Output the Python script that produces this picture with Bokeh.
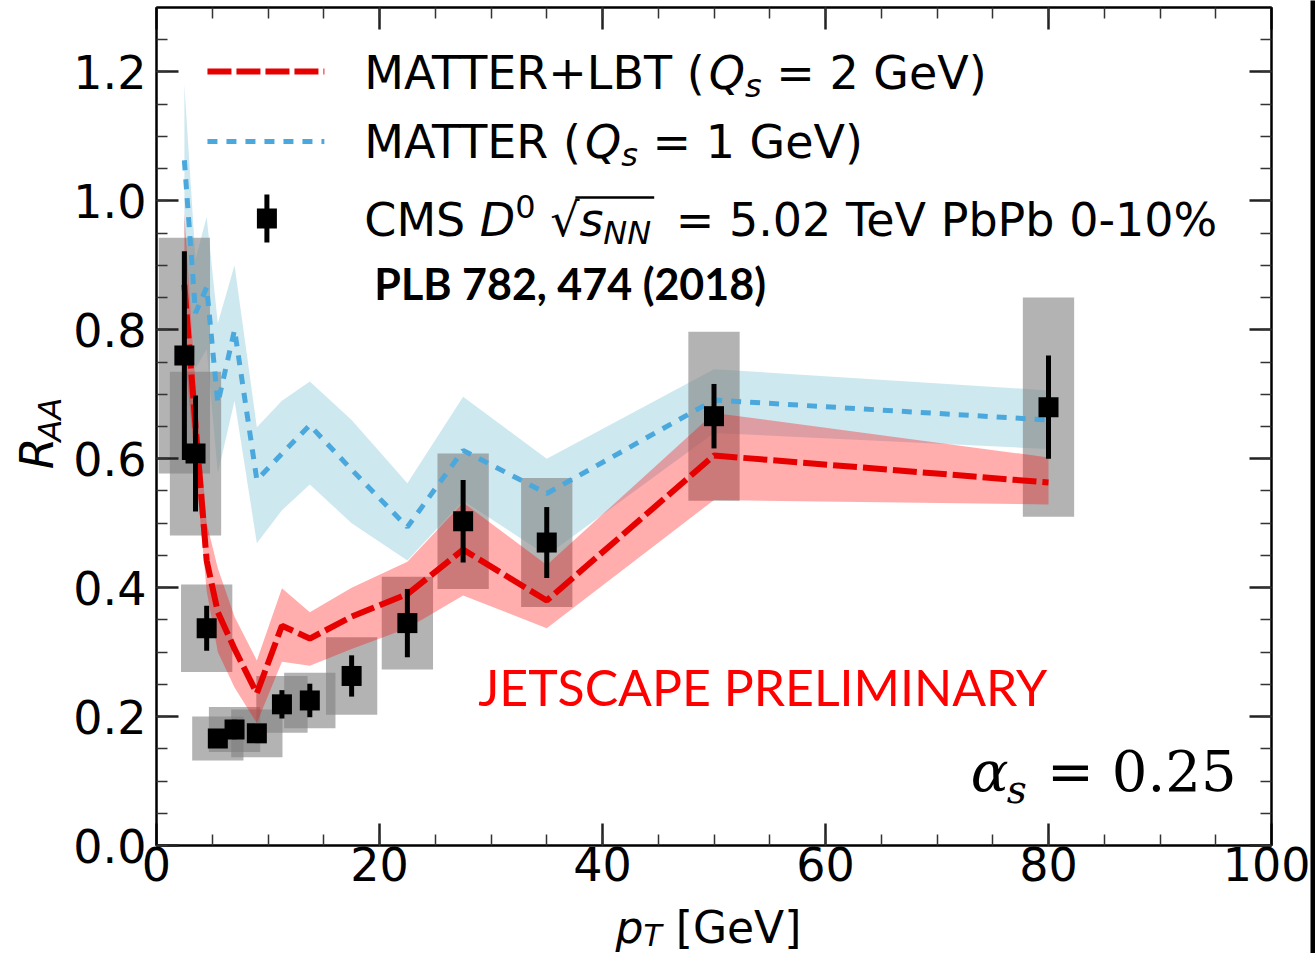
import numpy as np
from bokeh.plotting import figure
from bokeh.layouts import row, column
from bokeh.models import (Range1d, LinearAxis, SingleIntervalTicker, PrintfTickFormatter,
                          Label, ColumnDataSource)
from bokeh.embed import file_html
from bokeh.resources import INLINE

# ---------------- data ----------------
pt = [2.5, 3.5, 4.5, 5.5, 7.0, 9.0, 11.25, 13.75, 17.5, 22.5, 27.5, 35.0, 50.0, 80.0]
cms_raa = [0.760, 0.608, 0.337, 0.166, 0.180, 0.174, 0.219, 0.225, 0.263, 0.345, 0.503, 0.470, 0.666, 0.680]
cms_stat = [0.162, 0.090, 0.035, 0.012, 0.015, 0.010, 0.022, 0.026, 0.032, 0.053, 0.064, 0.055, 0.050, 0.080]
cms_syst = [0.183, 0.127, 0.068, 0.034, 0.035, 0.037, 0.044, 0.043, 0.060, 0.072, 0.105, 0.100, 0.131, 0.170]

lbt = [0.870, 0.650, 0.442, 0.362, 0.305, 0.236, 0.341, 0.321, 0.355, 0.390, 0.459, 0.380, 0.605, 0.563]
lbt_lo = [0.770, 0.585, 0.395, 0.300, 0.245, 0.190, 0.285, 0.279, 0.305, 0.337, 0.388, 0.337, 0.536, 0.529]
lbt_hi = [0.980, 0.715, 0.500, 0.430, 0.355, 0.287, 0.399, 0.362, 0.400, 0.440, 0.532, 0.435, 0.671, 0.602]

matter = [1.063, 0.826, 0.866, 0.686, 0.800, 0.567, 0.608, 0.652, 0.583, 0.494, 0.613, 0.546, 0.691, 0.660]
matter_lo = [0.950, 0.740, 0.770, 0.577, 0.690, 0.469, 0.520, 0.560, 0.500, 0.442, 0.535, 0.450, 0.640, 0.615]
matter_hi = [1.180, 0.910, 0.975, 0.810, 0.900, 0.649, 0.690, 0.720, 0.660, 0.562, 0.696, 0.600, 0.739, 0.706]

x_ticks_interval = 20
y_ticks_interval = 0.2

label_lbt = ["MATTER+LBT (", "Q", "s", " = 2 GeV)"]
label_matter = ["MATTER (", "Q", "s", " = 1 GeV)"]
label_cms = ["CMS ", "D", "0", "\u221a", "s", "NN", " = 5.02 TeV PbPb 0-10%"]
ref_text = "PLB 782, 474 (2018)"
prelim_text = "JETSCAPE PRELIMINARY"
alpha_text = ["\u03b1", "s", "= 0.25"]
xlabel_parts = ["p", "T", " [GeV]"]
ylabel_parts = ["R", "AA"]

# ---------------- page geometry (page pixels) ----------------
PAGE_W, PAGE_H = 1315, 953
LEFT_W = 70          # strip holding the y title
STRIP_W = 5          # black edge at the right
TOP_H = 900          # height of main row
BOT_H = PAGE_H - TOP_H
FRAME_L, FRAME_R, FRAME_T, FRAME_B = 155, 1271, 7, 845
MAIN_W = PAGE_W - LEFT_W - STRIP_W

p = figure(width=MAIN_W, height=TOP_H, output_backend="svg", toolbar_location=None,
           x_range=Range1d(0, 100), y_range=Range1d(0, 1.3),
           min_border_left=FRAME_L - LEFT_W, min_border_right=LEFT_W + MAIN_W - FRAME_R,
           min_border_top=FRAME_T, min_border_bottom=TOP_H - FRAME_B,
           x_axis_location=None, y_axis_location=None)
p.grid.visible = False
p.outline_line_color = "black"
p.outline_line_width = 2
p.background_fill_color = "white"
p.border_fill_color = "white"

SX = (FRAME_R - FRAME_L) / 100.0
SY = (FRAME_B - FRAME_T) / 1.3
def dx(px):
    return (px - FRAME_L) / SX
def dy(py):
    return (FRAME_B - py) / SY


def style_axis(ax, labels=True):
    ax.axis_line_color = "black"
    ax.axis_line_width = 2
    ax.major_tick_in = 22
    ax.major_tick_out = 0
    ax.minor_tick_in = 11
    ax.minor_tick_out = 0
    ax.major_tick_line_width = 2.5
    ax.minor_tick_line_width = 1.5
    ax.major_tick_line_color = "#222222"
    ax.minor_tick_line_color = "#333333"
    if labels:
        ax.major_label_text_font = "DejaVu Sans"
        ax.major_label_text_font_size = "46px"
        ax.major_label_text_color = "black"
    else:
        # mirrored axis: ticks only, labels not painted
        ax.major_label_text_font_size = "1px"
        ax.major_label_text_color = None
        ax.major_label_standoff = 0


xb = LinearAxis(ticker=SingleIntervalTicker(interval=x_ticks_interval, num_minor_ticks=4),
                formatter=PrintfTickFormatter(format="%d"))
style_axis(xb)
xb.major_label_standoff = 1
p.add_layout(xb, "below")
yl = LinearAxis(ticker=SingleIntervalTicker(interval=y_ticks_interval, num_minor_ticks=4),
                formatter=PrintfTickFormatter(format="%.1f"))
style_axis(yl)
yl.major_label_standoff = 10
p.add_layout(yl, "left")
xa = LinearAxis(ticker=SingleIntervalTicker(interval=x_ticks_interval, num_minor_ticks=4))
style_axis(xa, labels=False)
p.add_layout(xa, "above")
yr = LinearAxis(ticker=SingleIntervalTicker(interval=y_ticks_interval, num_minor_ticks=4))
style_axis(yr, labels=False)
p.add_layout(yr, "right")

# ---------------- glyphs ----------------
src = ColumnDataSource(dict(
    pt=pt, raa=cms_raa,
    st_lo=[v - e for v, e in zip(cms_raa, cms_stat)],
    st_hi=[v + e for v, e in zip(cms_raa, cms_stat)],
    sys_h=[2 * e for e in cms_syst],
    lbt=lbt, lbt_lo=lbt_lo, lbt_hi=lbt_hi,
    mat=matter, mat_lo=matter_lo, mat_hi=matter_hi,
))

RED, BLUE = "#e60000", "#4ba8dc"
p.varea(x="pt", y1="mat_lo", y2="mat_hi", source=src, fill_color="#add8e6", fill_alpha=0.6)
p.rect(x="pt", y="raa", width=4.6, height="sys_h", source=src,
       fill_color="gray", fill_alpha=0.6, line_color=None)
p.varea(x="pt", y1="lbt_lo", y2="lbt_hi", source=src, fill_color="red", fill_alpha=0.32)
p.line(x="pt", y="mat", source=src, line_color=BLUE, line_width=5, line_dash="10 9")
p.line(x="pt", y="lbt", source=src, line_color=RED, line_width=6, line_dash="24 6")
p.segment(x0="pt", y0="st_lo", x1="pt", y1="st_hi", source=src, line_color="black", line_width=5)
p.scatter(x="pt", y="raa", source=src, marker="square", size=20, fill_color="black", line_color=None)

# ---------------- legend samples ----------------
p.segment(x0=[dx(206)], y0=[dy(71)], x1=[dx(323)], y1=[dy(71)],
          line_color=RED, line_width=6, line_dash="24 5")
p.segment(x0=[dx(206)], y0=[dy(141)], x1=[dx(323)], y1=[dy(141)],
          line_color=BLUE, line_width=5, line_dash="10 9")
p.segment(x0=[dx(265.5)], y0=[dy(194)], x1=[dx(265.5)], y1=[dy(242)], line_color="black", line_width=5)
p.scatter(x=[dx(265.5)], y=[dy(218)], marker="square", size=20, fill_color="black", line_color=None)

# ---------------- text helpers ----------------
ADV = {'M': 1767, 'A': 1401, 'T': 1251, 'E': 1294, 'R': 1423, '+': 1716, 'L': 1141, 'B': 1405,
       ' ': 651, '(': 799, ')': 799, 'Q': 1612, 's': 1067, '=': 1716, 'G': 1577, 'e': 1260,
       'V': 1401, 'C': 1430, 'S': 1300, 'D': 1577, 'N': 1532, '.': 651, 'P': 1235, 'b': 1300,
       '-': 739, '%': 1946, 'p': 1300, '[': 799, ']': 799, '\u221a': 1303}
for d in "0123456789":
    ADV[d] = 1303

def tw(t, size):
    return sum(ADV.get(c, 1300) for c in t) / 2048.0 * size

MID = {"DejaVu Sans": 0.346, "DejaVu Serif": 0.346, "Lato": 0.387}


def mk(fig, x, y, text, size, font, style, color, align, angle=0.0):
    fig.add_layout(Label(x=x, y=y, text=text, text_font=font, text_font_size=f"{size}px",
                         text_font_style=style, text_color=color, text_align=align,
                         text_baseline="middle", angle=angle))


def lab(px, base, text, size, font="DejaVu Sans", style="normal", color="black", align="left"):
    mk(p, dx(px), dy(base - MID[font] * size), text, size, font, style, color, align)


def rich_row(parts, px, base):
    # parts: (text, size, style, baseline shift, extra gap before)
    x = px
    pos = []
    for text, size, style, shift, gap in parts:
        lead = len(text) - len(text.lstrip(" "))
        body = text.lstrip(" ")
        x0 = x + gap + tw(" " * lead, size)
        if body:
            lab(x0, base + shift, body, size, style=style)
        pos.append((x0, x0 + tw(body, size)))
        x = x0 + tw(body, size)
    return pos


FS, SUB = 46, 32
rich_row([(label_lbt[0], FS, "normal", 0, 0), (label_lbt[1], FS, "italic", 0, 0),
          (label_lbt[2], SUB, "italic", 9, 0), (label_lbt[3], FS, "normal", 0, 0)], 363, 88)
rich_row([(label_matter[0], FS, "normal", 0, 0), (label_matter[1], FS, "italic", 0, 0),
          (label_matter[2], SUB, "italic", 9, 0), (label_matter[3], FS, "normal", 0, 0)], 363, 157)
pos = rich_row([(label_cms[0], FS, "normal", 0, 0), (label_cms[1], FS, "italic", 0, 0),
                (label_cms[2], SUB, "normal", -18, 0), (" ", FS, "normal", 0, 0),
                (label_cms[3], FS, "normal", 0, 0), (label_cms[4], FS, "italic", 0, 0),
                (label_cms[5], SUB, "italic", 9, 0), (label_cms[6], FS, "normal", 0, 10)], 363, 235)
p.segment(x0=[dx(pos[4][1] - 4)], y0=[dy(197)], x1=[dx(pos[6][1] + 3)], y1=[dy(197)],
          line_color="black", line_width=2.5)

lab(373, 300, ref_text, 43, font="Lato", style="bold")
lab(477, 706, prelim_text, 50, font="Lato", color="red")

lab(970, 790, alpha_text[0], 56, font="DejaVu Serif", style="italic")
lab(1006, 802, alpha_text[1], 39, font="DejaVu Serif", style="italic")
lab(1236, 790, alpha_text[2], 56, font="DejaVu Serif", align="right")


def aux_fig(w, h, fill="white"):
    f = figure(width=w, height=h, output_backend="svg", toolbar_location=None,
               x_range=Range1d(0, w), y_range=Range1d(0, h), min_border=0,
               x_axis_location=None, y_axis_location=None)
    f.grid.visible = False
    f.outline_line_color = None
    f.background_fill_color = fill
    f.border_fill_color = fill
    return f

# y title (left strip, page coords: x 0..LEFT_W, y 0..TOP_H)
left = aux_fig(LEFT_W, TOP_H)
r_base, r_start = 52, 496
mk(left, r_base - MID["DejaVu Sans"] * FS, TOP_H - r_start, ylabel_parts[0], FS,
   "DejaVu Sans", "italic", "black", "left", angle=np.pi / 2)
mk(left, r_base + 9 - MID["DejaVu Sans"] * SUB, TOP_H - (r_start - tw("R", FS) + 2), ylabel_parts[1], SUB,
   "DejaVu Sans", "italic", "black", "left", angle=np.pi / 2)

# x title (bottom strip, page coords: x 0..LEFT_W+MAIN_W, y TOP_H..PAGE_H)
bottom = aux_fig(LEFT_W + MAIN_W, BOT_H)
def blab(px, base, text, size, style="normal"):
    mk(bottom, px, PAGE_H - (base - MID["DejaVu Sans"] * size), text, size,
       "DejaVu Sans", style, "black", "left")
XFS, XSUB = 44, 30
xb0 = 615
blab(xb0, 942, xlabel_parts[0], XFS, "italic")
blab(xb0 + tw("p", XFS), 945, xlabel_parts[1], XSUB, "italic")
blab(xb0 + tw("p", XFS) + tw("T", XSUB) + tw(" ", XFS), 942, xlabel_parts[2].strip(), XFS)

strip = aux_fig(STRIP_W, PAGE_H, fill="black")

layout = row(column(row(left, p, spacing=0), bottom, spacing=0), strip, spacing=0)
open("out.html", "w").write(file_html(layout, INLINE))
